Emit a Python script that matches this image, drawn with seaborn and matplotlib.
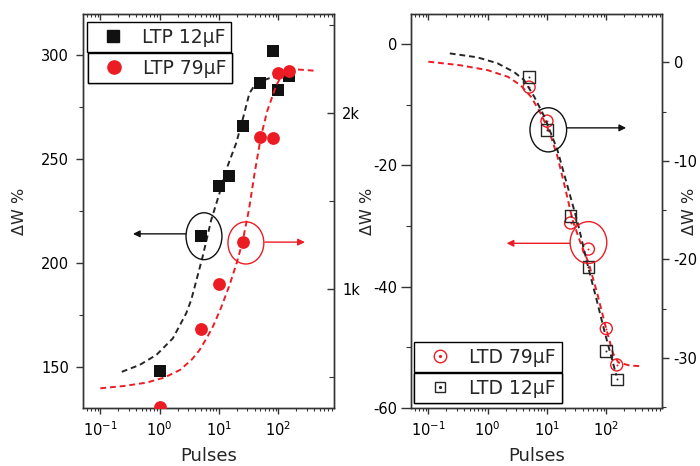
import matplotlib
matplotlib.use("Agg")
import matplotlib.pyplot as plt
import seaborn as sns
from matplotlib.patches import Ellipse
from matplotlib.lines import Line2D
from matplotlib.legend_handler import HandlerTuple
from matplotlib.ticker import FixedLocator, FixedFormatter, NullFormatter, MultipleLocator

# ---------------- data ----------------
ltp12_pulses = [1, 5, 10, 15, 25, 50, 80, 100, 150]
ltp12_dw = [148, 213, 237, 242, 266, 286.5, 302, 283, 290]
ltp79_pulses = [1, 5, 10, 25, 50, 80, 100, 150]
ltp79_dw = [331, 771, 1028, 1265, 1865, 1856, 2229, 2240]

ltd_pulses = [5, 10, 25, 50, 100, 150]
ltd12_dw = [-1.5, -6.9, -15.6, -20.8, -29.3, -32.2]
ltd79_dw = [-7.1, -12.7, -29.5, -33.8, -46.9, -52.9]

# dashed fit curves
fit12_ltp_x = [0.23, 0.46, 0.88, 1.67, 2.8, 3.4, 5.3, 7.4, 10.2, 13.2, 19.5, 25, 32.6, 42, 70, 153]
fit12_ltp_y = [147.7, 151, 155.8, 163.8, 175.8, 182.2, 203, 220.7, 233.5, 244.7, 257.6, 268.8,
               281.6, 286.4, 288.8, 290.4]
fit79_ltp_x = [0.1, 0.25, 0.6, 1.2, 2.2, 3.5, 4.7, 6.3, 7.9, 10.8, 15, 20, 25, 32, 40, 51, 65,
               91, 118, 160, 250, 410]
fit79_ltp_y = [436, 449, 468, 497, 540, 600, 653, 725, 786, 892, 1020, 1150, 1269, 1450, 1660,
               1865, 2010, 2150, 2226, 2250, 2245, 2240]
fit12_ltd_x = [0.23, 0.67, 1.46, 2.8, 4.1, 6.1, 9.0, 15, 25, 33, 49, 68, 94, 148]
fit12_ltd_y = [0.9, 0.5, -0.1, -1.0, -1.8, -3.5, -5.5, -8.9, -13.7, -16.3, -20.7, -24.0, -27.4, -31.8]
fit79_ltd_x = [0.1, 0.35, 1.0, 2.2, 3.6, 5.4, 7.9, 11, 15, 20, 27, 36, 50, 70, 100, 130, 160, 250, 390]
fit79_ltd_y = [-2.9, -3.5, -4.3, -5.4, -6.8, -8.7, -11.5, -14.5, -18.5, -23.5, -29.0, -32.5, -36.0,
               -41.0, -47.0, -51.0, -52.5, -53.0, -53.1]

ltp79_ticks = [1000, 2000]
ltp79_ticklabels = ["1k", "2k"]
labels_ltp = ["LTP 12\u00b5F", "LTP 79\u00b5F"]
labels_ltd = ["LTD 79\u00b5F", "LTD 12\u00b5F"]

RED = "#ec1c24"
BLK = "#111111"
DBLK = "#262626"

# ---------------- style ----------------
sns.set_theme(style="ticks")
plt.rcParams["font.family"] = ["DejaVu Sans"]
plt.rcParams["axes.unicode_minus"] = False
plt.rcParams["axes.linewidth"] = 1.0
plt.rcParams["axes.edgecolor"] = "#333333"
plt.rcParams["xtick.color"] = "#333333"
plt.rcParams["ytick.color"] = "#333333"
plt.rcParams["xtick.labelcolor"] = "black"
plt.rcParams["ytick.labelcolor"] = "black"

fig = plt.figure(figsize=(7.0, 4.66), dpi=100)
W, H = 700.0, 466.0
ax1 = fig.add_axes([83 / W, 1 - 408 / H, 251 / W, 394 / H])
ax2 = fig.add_axes([411 / W, 1 - 408 / H, 251 / W, 394 / H])
for ax in (ax1, ax2):
    ax.set_xscale("log")
ax1t = ax1.twinx()
ax2t = ax2.twinx()

TICKFS = 10.5


def dashed(ax, x, y, color):
    sns.lineplot(x=x, y=y, ax=ax, color=color, lw=1.4, estimator=None, sort=True)
    ln = ax.lines[-1]
    ln.set_dashes([3, 2])
    return ln


def open_scatter(ax, x, y, marker, color, s):
    sns.scatterplot(x=x, y=y, ax=ax, marker=marker, s=s, color=color, edgecolor=color,
                    linewidth=1.0, zorder=4)
    ax.collections[-1].set_facecolor("none")
    sns.scatterplot(x=x, y=y, ax=ax, marker="o", s=2, color=color, edgecolor=color,
                    linewidth=0, zorder=4)


# ---------------- left panel (LTP) ----------------
dashed(ax1, fit12_ltp_x, fit12_ltp_y, DBLK)
sns.scatterplot(x=ltp12_pulses, y=ltp12_dw, ax=ax1, marker="s", s=74, color=BLK,
                edgecolor=BLK, linewidth=0, zorder=4)
dashed(ax1t, fit79_ltp_x, fit79_ltp_y, RED)
sns.scatterplot(x=ltp79_pulses, y=ltp79_dw, ax=ax1t, marker="o", s=85, color=RED,
                edgecolor=RED, linewidth=0, zorder=4)

# ---------------- right panel (LTD) ----------------
dashed(ax2, fit79_ltd_x, fit79_ltd_y, RED)
open_scatter(ax2, ltd_pulses, ltd79_dw, "o", RED, 75)
dashed(ax2t, fit12_ltd_x, fit12_ltd_y, DBLK)
open_scatter(ax2t, ltd_pulses, ltd12_dw, "s", DBLK, 72)

# ---------------- axes limits / ticks ----------------
for ax in (ax1, ax2, ax1t, ax2t):
    ax.set_xlim(0.051, 870)
ax1.set_ylim(130.3, 319.7)
ax1t.set_ylim(324, 2562)
ax2.set_ylim(-60, 4.96)
ax2t.set_ylim(-35.1, 4.9)

ax1.yaxis.set_major_locator(MultipleLocator(50))
ax1.yaxis.set_minor_locator(MultipleLocator(25))
ax1t.yaxis.set_major_locator(FixedLocator(ltp79_ticks))
ax1t.yaxis.set_major_formatter(FixedFormatter(ltp79_ticklabels))
ax1t.yaxis.set_minor_locator(MultipleLocator(500))
ax2.yaxis.set_major_locator(MultipleLocator(20))
ax2.yaxis.set_minor_locator(MultipleLocator(10))
ax2t.yaxis.set_major_locator(MultipleLocator(10))
ax2t.yaxis.set_minor_locator(MultipleLocator(5))

for ax, axt in ((ax1, ax1t), (ax2, ax2t)):
    ax.xaxis.set_minor_formatter(NullFormatter())
    ax.tick_params(axis="x", which="major", direction="out", length=4.5, width=1,
                   labelsize=TICKFS, pad=4, top=False)
    ax.tick_params(axis="x", which="minor", direction="out", length=2.5, width=0.8, top=False)
    # top ticks (inward) drawn through the twin axes
    axt.xaxis.set_visible(True)
    axt.tick_params(axis="x", which="both", direction="in", bottom=False, top=True,
                    labelbottom=False, labeltop=False)
    axt.tick_params(axis="x", which="major", length=4, width=1)
    axt.tick_params(axis="x", which="minor", length=2.5, width=0.8)
    axt.xaxis.set_minor_formatter(NullFormatter())
    ax.set_xlabel("Pulses", fontsize=13, labelpad=6)

ax1.tick_params(axis="y", which="major", direction="out", length=5, width=1,
                labelsize=TICKFS, pad=5)
ax1.tick_params(axis="y", which="minor", direction="out", length=3, width=0.8)
ax1t.tick_params(axis="y", which="major", direction="in", length=5, width=1,
                 labelsize=TICKFS, pad=6)
ax1t.tick_params(axis="y", which="minor", direction="in", length=3.5, width=0.8)
ax2.tick_params(axis="y", which="major", direction="out", length=7, width=1,
                labelsize=TICKFS, pad=3)
ax2.tick_params(axis="y", which="minor", direction="out", length=3.5, width=0.8)
ax2t.tick_params(axis="y", which="major", direction="out", length=4.8, width=1,
                 labelsize=TICKFS, pad=3.5)
ax2t.tick_params(axis="y", which="minor", direction="out", length=3, width=0.8)

ax1.set_ylabel("\u0394W %", fontsize=11.5)
ax1.yaxis.set_label_coords(-0.225, 0.5)
ax2.set_ylabel("\u0394W %", fontsize=11.5)
ax2.yaxis.set_label_coords(-0.143, 0.5)
ax2t.set_ylabel("\u0394W %", fontsize=11.5)
ax2t.yaxis.set_label_coords(1.080, 0.5)
ax1t.set_ylabel("")

for ax in (ax1, ax2, ax1t, ax2t):
    for sp in ax.spines.values():
        sp.set_linewidth(1.0)
        sp.set_color("#333333")

# ---------------- annotation ellipses and arrows ----------------
def mark(ax, cx, cy, w, h, tail, head, color):
    ax.add_patch(Ellipse((cx, cy), w, h, transform=ax.transAxes, fill=False,
                         edgecolor=color, lw=1.0, zorder=6, clip_on=False))
    ax.annotate("", xy=head, xytext=tail, xycoords="axes fraction",
                textcoords="axes fraction",
                arrowprops=dict(arrowstyle="-|>", color=color, lw=1.0,
                                mutation_scale=10, shrinkA=0, shrinkB=0),
                zorder=6)

mark(ax1t, 0.482, 0.436, 0.143, 0.119, (0.410, 0.442), (0.199, 0.442), BLK)
mark(ax1t, 0.649, 0.419, 0.143, 0.107, (0.725, 0.421), (0.884, 0.421), RED)
mark(ax2t, 0.547, 0.706, 0.146, 0.112, (0.622, 0.711), (0.857, 0.711), BLK)
mark(ax2t, 0.707, 0.420, 0.146, 0.106, (0.633, 0.418), (0.381, 0.418), RED)

# ---------------- legends (one boxed entry each) ----------------
LEGKW = dict(loc="upper left", frameon=True, fancybox=False, edgecolor="black",
             framealpha=1, borderpad=0.3, handlelength=2.2, handletextpad=0.45,
             borderaxespad=0, fontsize=13.5)


def box_legend(ax, handle, label, anchor):
    leg = ax.legend(handles=[handle], labels=[label], bbox_to_anchor=anchor,
                    handler_map={tuple: HandlerTuple(ndivide=1, pad=0)}, **LEGKW)
    leg.get_frame().set_linewidth(1.0)
    leg.set_zorder(10)
    ax.add_artist(leg)
    return leg


h_ltp12 = Line2D([], [], marker="s", ls="", color=BLK, markersize=9)
h_ltp79 = Line2D([], [], marker="o", ls="", color=RED, markersize=9.5)
box_legend(ax1t, h_ltp12, labels_ltp[0], (0.016, 0.980))
box_legend(ax1t, h_ltp79, labels_ltp[1], (0.020, 0.901))

h_ltd79 = (Line2D([], [], marker="o", ls="", mfc="none", mec=RED, mew=1.0, markersize=9),
           Line2D([], [], marker="o", ls="", color=RED, markersize=1.3))
h_ltd12 = (Line2D([], [], marker="s", ls="", mfc="none", mec=DBLK, mew=1.0, markersize=7),
           Line2D([], [], marker="o", ls="", color=DBLK, markersize=1.3))
box_legend(ax2t, h_ltd79, labels_ltd[0], (0.012, 0.1675))
box_legend(ax2t, h_ltd12, labels_ltd[1], (0.012, 0.089))

fig.savefig("out.png", dpi=100, facecolor="white")
